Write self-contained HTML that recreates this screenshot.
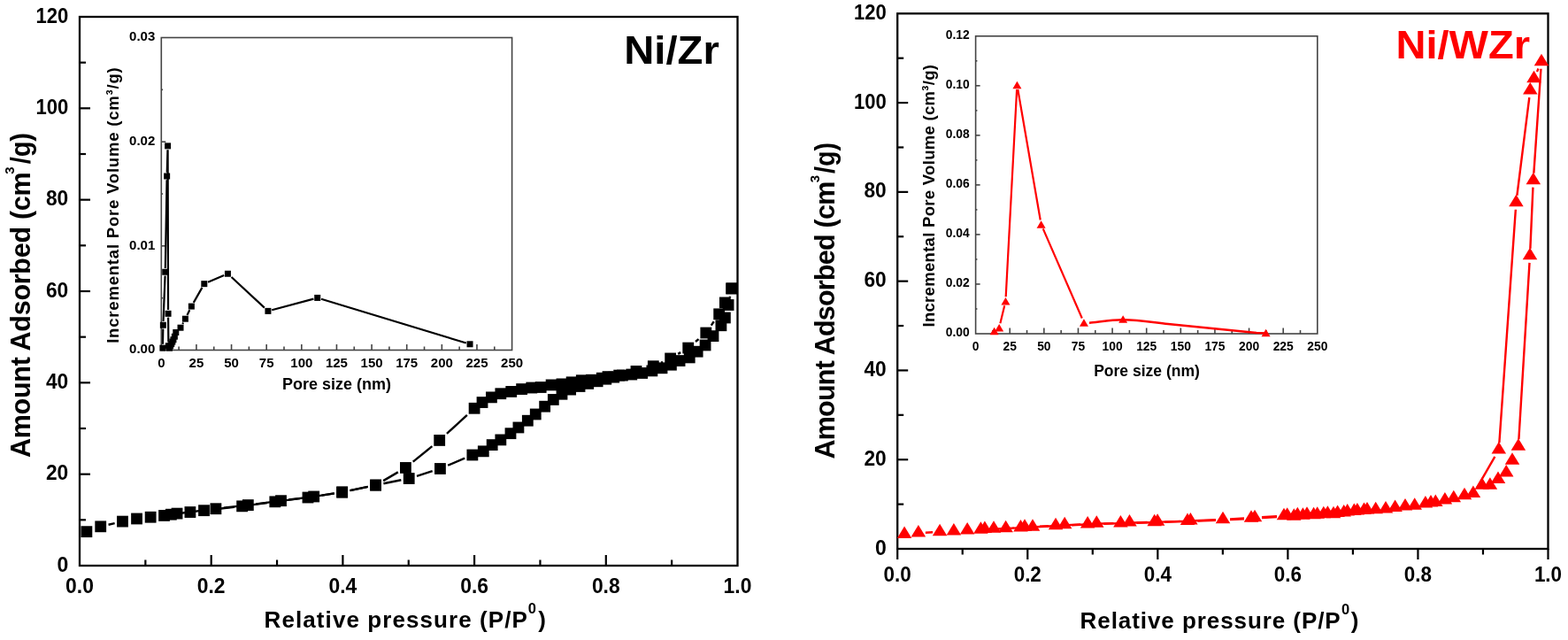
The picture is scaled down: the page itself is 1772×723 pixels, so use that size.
<!DOCTYPE html><html><head><meta charset="utf-8"><title>Isotherms</title><style>html,body{margin:0;padding:0;background:#fff;}svg{display:block;}text{font-family:"Liberation Sans", Arial, sans-serif;}</style></head><body>
<svg width="1772" height="723" viewBox="0 0 1772 723">
<rect width="1772" height="723" fill="#fff"/>
<rect x="90" y="19" width="743.5" height="620" fill="none" stroke="#000" stroke-width="2.3"/>
<text x="77.2" y="645.5" font-size="24.5" font-weight="bold" text-anchor="end" fill="#000" textLength="12.8" lengthAdjust="spacingAndGlyphs">0</text>
<line x1="90" y1="587.33" x2="97" y2="587.33" stroke="#000" stroke-width="2.2"/>
<line x1="90" y1="535.67" x2="102" y2="535.67" stroke="#000" stroke-width="2.2"/>
<text x="77.2" y="542.17" font-size="24.5" font-weight="bold" text-anchor="end" fill="#000" textLength="25.3" lengthAdjust="spacingAndGlyphs">20</text>
<line x1="90" y1="484" x2="97" y2="484" stroke="#000" stroke-width="2.2"/>
<line x1="90" y1="432.33" x2="102" y2="432.33" stroke="#000" stroke-width="2.2"/>
<text x="77.2" y="438.83" font-size="24.5" font-weight="bold" text-anchor="end" fill="#000" textLength="25.3" lengthAdjust="spacingAndGlyphs">40</text>
<line x1="90" y1="380.67" x2="97" y2="380.67" stroke="#000" stroke-width="2.2"/>
<line x1="90" y1="329" x2="102" y2="329" stroke="#000" stroke-width="2.2"/>
<text x="77.2" y="335.5" font-size="24.5" font-weight="bold" text-anchor="end" fill="#000" textLength="25.3" lengthAdjust="spacingAndGlyphs">60</text>
<line x1="90" y1="277.33" x2="97" y2="277.33" stroke="#000" stroke-width="2.2"/>
<line x1="90" y1="225.67" x2="102" y2="225.67" stroke="#000" stroke-width="2.2"/>
<text x="77.2" y="232.17" font-size="24.5" font-weight="bold" text-anchor="end" fill="#000" textLength="25.3" lengthAdjust="spacingAndGlyphs">80</text>
<line x1="90" y1="174" x2="97" y2="174" stroke="#000" stroke-width="2.2"/>
<line x1="90" y1="122.33" x2="102" y2="122.33" stroke="#000" stroke-width="2.2"/>
<text x="77.2" y="128.83" font-size="24.5" font-weight="bold" text-anchor="end" fill="#000" textLength="36.8" lengthAdjust="spacingAndGlyphs">100</text>
<line x1="90" y1="70.67" x2="97" y2="70.67" stroke="#000" stroke-width="2.2"/>
<text x="77.2" y="25.5" font-size="24.5" font-weight="bold" text-anchor="end" fill="#000" textLength="36.8" lengthAdjust="spacingAndGlyphs">120</text>
<text x="90" y="670" font-size="24" font-weight="bold" text-anchor="middle" fill="#000" textLength="31.8" lengthAdjust="spacingAndGlyphs">0.0</text>
<line x1="164.35" y1="639" x2="164.35" y2="632.5" stroke="#000" stroke-width="2.2"/>
<line x1="238.7" y1="639" x2="238.7" y2="627" stroke="#000" stroke-width="2.2"/>
<text x="238.7" y="670" font-size="24" font-weight="bold" text-anchor="middle" fill="#000" textLength="31.8" lengthAdjust="spacingAndGlyphs">0.2</text>
<line x1="313.05" y1="639" x2="313.05" y2="632.5" stroke="#000" stroke-width="2.2"/>
<line x1="387.4" y1="639" x2="387.4" y2="627" stroke="#000" stroke-width="2.2"/>
<text x="387.4" y="670" font-size="24" font-weight="bold" text-anchor="middle" fill="#000" textLength="31.8" lengthAdjust="spacingAndGlyphs">0.4</text>
<line x1="461.75" y1="639" x2="461.75" y2="632.5" stroke="#000" stroke-width="2.2"/>
<line x1="536.1" y1="639" x2="536.1" y2="627" stroke="#000" stroke-width="2.2"/>
<text x="536.1" y="670" font-size="24" font-weight="bold" text-anchor="middle" fill="#000" textLength="31.8" lengthAdjust="spacingAndGlyphs">0.6</text>
<line x1="610.45" y1="639" x2="610.45" y2="632.5" stroke="#000" stroke-width="2.2"/>
<line x1="684.8" y1="639" x2="684.8" y2="627" stroke="#000" stroke-width="2.2"/>
<text x="684.8" y="670" font-size="24" font-weight="bold" text-anchor="middle" fill="#000" textLength="31.8" lengthAdjust="spacingAndGlyphs">0.8</text>
<line x1="759.15" y1="639" x2="759.15" y2="632.5" stroke="#000" stroke-width="2.2"/>
<text x="833.5" y="670" font-size="24" font-weight="bold" text-anchor="middle" fill="#000" textLength="31.8" lengthAdjust="spacingAndGlyphs">1.0</text>
<rect x="1014.2" y="15.3" width="735.3" height="604.7" fill="none" stroke="#000" stroke-width="2.3"/>
<text x="1001.7" y="626.6" font-size="24.5" font-weight="bold" text-anchor="end" fill="#000" textLength="12.8" lengthAdjust="spacingAndGlyphs">0</text>
<line x1="1014.2" y1="569.61" x2="1021.2" y2="569.61" stroke="#000" stroke-width="2.2"/>
<line x1="1014.2" y1="519.22" x2="1026.2" y2="519.22" stroke="#000" stroke-width="2.2"/>
<text x="1001.7" y="525.82" font-size="24.5" font-weight="bold" text-anchor="end" fill="#000" textLength="25.3" lengthAdjust="spacingAndGlyphs">20</text>
<line x1="1014.2" y1="468.82" x2="1021.2" y2="468.82" stroke="#000" stroke-width="2.2"/>
<line x1="1014.2" y1="418.43" x2="1026.2" y2="418.43" stroke="#000" stroke-width="2.2"/>
<text x="1001.7" y="425.03" font-size="24.5" font-weight="bold" text-anchor="end" fill="#000" textLength="25.3" lengthAdjust="spacingAndGlyphs">40</text>
<line x1="1014.2" y1="368.04" x2="1021.2" y2="368.04" stroke="#000" stroke-width="2.2"/>
<line x1="1014.2" y1="317.65" x2="1026.2" y2="317.65" stroke="#000" stroke-width="2.2"/>
<text x="1001.7" y="324.25" font-size="24.5" font-weight="bold" text-anchor="end" fill="#000" textLength="25.3" lengthAdjust="spacingAndGlyphs">60</text>
<line x1="1014.2" y1="267.26" x2="1021.2" y2="267.26" stroke="#000" stroke-width="2.2"/>
<line x1="1014.2" y1="216.87" x2="1026.2" y2="216.87" stroke="#000" stroke-width="2.2"/>
<text x="1001.7" y="223.47" font-size="24.5" font-weight="bold" text-anchor="end" fill="#000" textLength="25.3" lengthAdjust="spacingAndGlyphs">80</text>
<line x1="1014.2" y1="166.47" x2="1021.2" y2="166.47" stroke="#000" stroke-width="2.2"/>
<line x1="1014.2" y1="116.08" x2="1026.2" y2="116.08" stroke="#000" stroke-width="2.2"/>
<text x="1001.7" y="122.68" font-size="24.5" font-weight="bold" text-anchor="end" fill="#000" textLength="36.8" lengthAdjust="spacingAndGlyphs">100</text>
<line x1="1014.2" y1="65.69" x2="1021.2" y2="65.69" stroke="#000" stroke-width="2.2"/>
<text x="1001.7" y="21.9" font-size="24.5" font-weight="bold" text-anchor="end" fill="#000" textLength="36.8" lengthAdjust="spacingAndGlyphs">120</text>
<line x1="1014.2" y1="620" x2="1014.2" y2="632" stroke="#000" stroke-width="2.2"/>
<text x="1014.2" y="657.3" font-size="23" font-weight="bold" text-anchor="middle" fill="#000" textLength="31.2" lengthAdjust="spacingAndGlyphs">0.0</text>
<line x1="1087.73" y1="620" x2="1087.73" y2="626.5" stroke="#000" stroke-width="2.2"/>
<line x1="1161.26" y1="620" x2="1161.26" y2="632" stroke="#000" stroke-width="2.2"/>
<text x="1161.26" y="657.3" font-size="23" font-weight="bold" text-anchor="middle" fill="#000" textLength="31.2" lengthAdjust="spacingAndGlyphs">0.2</text>
<line x1="1234.79" y1="620" x2="1234.79" y2="626.5" stroke="#000" stroke-width="2.2"/>
<line x1="1308.32" y1="620" x2="1308.32" y2="632" stroke="#000" stroke-width="2.2"/>
<text x="1308.32" y="657.3" font-size="23" font-weight="bold" text-anchor="middle" fill="#000" textLength="31.2" lengthAdjust="spacingAndGlyphs">0.4</text>
<line x1="1381.85" y1="620" x2="1381.85" y2="626.5" stroke="#000" stroke-width="2.2"/>
<line x1="1455.38" y1="620" x2="1455.38" y2="632" stroke="#000" stroke-width="2.2"/>
<text x="1455.38" y="657.3" font-size="23" font-weight="bold" text-anchor="middle" fill="#000" textLength="31.2" lengthAdjust="spacingAndGlyphs">0.6</text>
<line x1="1528.91" y1="620" x2="1528.91" y2="626.5" stroke="#000" stroke-width="2.2"/>
<line x1="1602.44" y1="620" x2="1602.44" y2="632" stroke="#000" stroke-width="2.2"/>
<text x="1602.44" y="657.3" font-size="23" font-weight="bold" text-anchor="middle" fill="#000" textLength="31.2" lengthAdjust="spacingAndGlyphs">0.8</text>
<line x1="1675.97" y1="620" x2="1675.97" y2="626.5" stroke="#000" stroke-width="2.2"/>
<line x1="1749.5" y1="620" x2="1749.5" y2="632" stroke="#000" stroke-width="2.2"/>
<text x="1749.5" y="657.3" font-size="23" font-weight="bold" text-anchor="middle" fill="#000" textLength="31.2" lengthAdjust="spacingAndGlyphs">1.0</text>
<text x="298.6" y="709.1" font-size="26" font-weight="bold" textLength="297.3" lengthAdjust="spacing">Relative pressure (P/P</text>
<text x="596.7" y="693" font-size="16.5" font-weight="bold">0</text>
<text x="608.3" y="709.1" font-size="26" font-weight="bold">)</text>
<text x="1220.6" y="710.3" font-size="26" font-weight="bold" textLength="294.1" lengthAdjust="spacing">Relative pressure (P/P</text>
<text x="1515.9" y="694.3" font-size="16.5" font-weight="bold">0</text>
<text x="1526.7" y="710.3" font-size="26" font-weight="bold">)</text>
<g transform="translate(33.6,517) rotate(-90)">
<text x="0" y="0" font-size="30.5" font-weight="bold" textLength="322.7" lengthAdjust="spacing">Amount Adsorbed (cm</text>
<text x="320.25" y="-17.3" font-size="15" font-weight="bold">3</text>
<text x="331.7" y="0" font-size="30.5" font-weight="bold" textLength="35.3" lengthAdjust="spacingAndGlyphs">/g)</text>
</g>
<g transform="translate(942.6,518.5) rotate(-90)">
<text x="0" y="0" font-size="30.5" font-weight="bold" textLength="313.8" lengthAdjust="spacing">Amount Adsorbed (cm</text>
<text x="312.2" y="-17.1" font-size="15" font-weight="bold">3</text>
<text x="322.5" y="0" font-size="30.5" font-weight="bold" textLength="35" lengthAdjust="spacingAndGlyphs">/g)</text>
</g>
<text x="705.3" y="71.8" font-size="45" font-weight="bold" text-anchor="start" fill="#000" textLength="107.5" lengthAdjust="spacingAndGlyphs">Ni/Zr</text>
<text x="1577.5" y="66" font-size="45" font-weight="bold" text-anchor="start" fill="#f00" textLength="151.5" lengthAdjust="spacingAndGlyphs">Ni/WZr</text>
<rect x="182.3" y="42.5" width="396.3" height="353" fill="#fff" stroke="#444" stroke-width="1.6"/>
<text x="182.3" y="415.1" font-size="15" font-weight="bold" text-anchor="middle" fill="#000">0</text>
<line x1="202.12" y1="395.5" x2="202.12" y2="391.5" stroke="#444" stroke-width="1.6"/>
<line x1="221.93" y1="395.5" x2="221.93" y2="389" stroke="#444" stroke-width="1.6"/>
<text x="221.93" y="415.1" font-size="15" font-weight="bold" text-anchor="middle" fill="#000">25</text>
<line x1="241.75" y1="395.5" x2="241.75" y2="391.5" stroke="#444" stroke-width="1.6"/>
<line x1="261.56" y1="395.5" x2="261.56" y2="389" stroke="#444" stroke-width="1.6"/>
<text x="261.56" y="415.1" font-size="15" font-weight="bold" text-anchor="middle" fill="#000">50</text>
<line x1="281.38" y1="395.5" x2="281.38" y2="391.5" stroke="#444" stroke-width="1.6"/>
<line x1="301.19" y1="395.5" x2="301.19" y2="389" stroke="#444" stroke-width="1.6"/>
<text x="301.19" y="415.1" font-size="15" font-weight="bold" text-anchor="middle" fill="#000">75</text>
<line x1="321" y1="395.5" x2="321" y2="391.5" stroke="#444" stroke-width="1.6"/>
<line x1="340.82" y1="395.5" x2="340.82" y2="389" stroke="#444" stroke-width="1.6"/>
<text x="340.82" y="415.1" font-size="15" font-weight="bold" text-anchor="middle" fill="#000">100</text>
<line x1="360.63" y1="395.5" x2="360.63" y2="391.5" stroke="#444" stroke-width="1.6"/>
<line x1="380.45" y1="395.5" x2="380.45" y2="389" stroke="#444" stroke-width="1.6"/>
<text x="380.45" y="415.1" font-size="15" font-weight="bold" text-anchor="middle" fill="#000">125</text>
<line x1="400.26" y1="395.5" x2="400.26" y2="391.5" stroke="#444" stroke-width="1.6"/>
<line x1="420.08" y1="395.5" x2="420.08" y2="389" stroke="#444" stroke-width="1.6"/>
<text x="420.08" y="415.1" font-size="15" font-weight="bold" text-anchor="middle" fill="#000">150</text>
<line x1="439.9" y1="395.5" x2="439.9" y2="391.5" stroke="#444" stroke-width="1.6"/>
<line x1="459.71" y1="395.5" x2="459.71" y2="389" stroke="#444" stroke-width="1.6"/>
<text x="459.71" y="415.1" font-size="15" font-weight="bold" text-anchor="middle" fill="#000">175</text>
<line x1="479.53" y1="395.5" x2="479.53" y2="391.5" stroke="#444" stroke-width="1.6"/>
<line x1="499.34" y1="395.5" x2="499.34" y2="389" stroke="#444" stroke-width="1.6"/>
<text x="499.34" y="415.1" font-size="15" font-weight="bold" text-anchor="middle" fill="#000">200</text>
<line x1="519.15" y1="395.5" x2="519.15" y2="391.5" stroke="#444" stroke-width="1.6"/>
<line x1="538.97" y1="395.5" x2="538.97" y2="389" stroke="#444" stroke-width="1.6"/>
<text x="538.97" y="415.1" font-size="15" font-weight="bold" text-anchor="middle" fill="#000">225</text>
<line x1="558.79" y1="395.5" x2="558.79" y2="391.5" stroke="#444" stroke-width="1.6"/>
<text x="578.6" y="415.1" font-size="15" font-weight="bold" text-anchor="middle" fill="#000">250</text>
<text x="175.3" y="399.4" font-size="15" font-weight="bold" text-anchor="end" fill="#000">0.00</text>
<line x1="182.3" y1="336.67" x2="184.1" y2="336.67" stroke="#444" stroke-width="1.6"/>
<line x1="182.3" y1="277.83" x2="187.3" y2="277.83" stroke="#444" stroke-width="1.6"/>
<text x="175.3" y="281.73" font-size="15" font-weight="bold" text-anchor="end" fill="#000">0.01</text>
<line x1="182.3" y1="219" x2="184.1" y2="219" stroke="#444" stroke-width="1.6"/>
<line x1="182.3" y1="160.17" x2="187.3" y2="160.17" stroke="#444" stroke-width="1.6"/>
<text x="175.3" y="164.07" font-size="15" font-weight="bold" text-anchor="end" fill="#000">0.02</text>
<line x1="182.3" y1="101.33" x2="184.1" y2="101.33" stroke="#444" stroke-width="1.6"/>
<text x="175.3" y="46.4" font-size="15" font-weight="bold" text-anchor="end" fill="#000">0.03</text>
<text x="380.5" y="440" font-size="18" font-weight="bold" text-anchor="middle">Pore size (nm)</text>
<text transform="translate(134,387.8) rotate(-90)" font-size="18.5" font-weight="bold" textLength="311.5" lengthAdjust="spacing">Incremental Pore Volume (cm&#179;/g)</text>
<rect x="1102.6" y="40.8" width="386.2" height="336.2" fill="#fff" stroke="#444" stroke-width="1.6"/>
<text x="1102.6" y="396.2" font-size="13.8" font-weight="bold" text-anchor="middle" fill="#000">0</text>
<line x1="1121.91" y1="377" x2="1121.91" y2="373" stroke="#444" stroke-width="1.6"/>
<line x1="1141.22" y1="377" x2="1141.22" y2="370.5" stroke="#444" stroke-width="1.6"/>
<text x="1141.22" y="396.2" font-size="13.8" font-weight="bold" text-anchor="middle" fill="#000">25</text>
<line x1="1160.53" y1="377" x2="1160.53" y2="373" stroke="#444" stroke-width="1.6"/>
<line x1="1179.84" y1="377" x2="1179.84" y2="370.5" stroke="#444" stroke-width="1.6"/>
<text x="1179.84" y="396.2" font-size="13.8" font-weight="bold" text-anchor="middle" fill="#000">50</text>
<line x1="1199.15" y1="377" x2="1199.15" y2="373" stroke="#444" stroke-width="1.6"/>
<line x1="1218.46" y1="377" x2="1218.46" y2="370.5" stroke="#444" stroke-width="1.6"/>
<text x="1218.46" y="396.2" font-size="13.8" font-weight="bold" text-anchor="middle" fill="#000">75</text>
<line x1="1237.77" y1="377" x2="1237.77" y2="373" stroke="#444" stroke-width="1.6"/>
<line x1="1257.08" y1="377" x2="1257.08" y2="370.5" stroke="#444" stroke-width="1.6"/>
<text x="1257.08" y="396.2" font-size="13.8" font-weight="bold" text-anchor="middle" fill="#000">100</text>
<line x1="1276.39" y1="377" x2="1276.39" y2="373" stroke="#444" stroke-width="1.6"/>
<line x1="1295.7" y1="377" x2="1295.7" y2="370.5" stroke="#444" stroke-width="1.6"/>
<text x="1295.7" y="396.2" font-size="13.8" font-weight="bold" text-anchor="middle" fill="#000">125</text>
<line x1="1315.01" y1="377" x2="1315.01" y2="373" stroke="#444" stroke-width="1.6"/>
<line x1="1334.32" y1="377" x2="1334.32" y2="370.5" stroke="#444" stroke-width="1.6"/>
<text x="1334.32" y="396.2" font-size="13.8" font-weight="bold" text-anchor="middle" fill="#000">150</text>
<line x1="1353.63" y1="377" x2="1353.63" y2="373" stroke="#444" stroke-width="1.6"/>
<line x1="1372.94" y1="377" x2="1372.94" y2="370.5" stroke="#444" stroke-width="1.6"/>
<text x="1372.94" y="396.2" font-size="13.8" font-weight="bold" text-anchor="middle" fill="#000">175</text>
<line x1="1392.25" y1="377" x2="1392.25" y2="373" stroke="#444" stroke-width="1.6"/>
<line x1="1411.56" y1="377" x2="1411.56" y2="370.5" stroke="#444" stroke-width="1.6"/>
<text x="1411.56" y="396.2" font-size="13.8" font-weight="bold" text-anchor="middle" fill="#000">200</text>
<line x1="1430.87" y1="377" x2="1430.87" y2="373" stroke="#444" stroke-width="1.6"/>
<line x1="1450.18" y1="377" x2="1450.18" y2="370.5" stroke="#444" stroke-width="1.6"/>
<text x="1450.18" y="396.2" font-size="13.8" font-weight="bold" text-anchor="middle" fill="#000">225</text>
<line x1="1469.49" y1="377" x2="1469.49" y2="373" stroke="#444" stroke-width="1.6"/>
<text x="1488.8" y="396.2" font-size="13.8" font-weight="bold" text-anchor="middle" fill="#000">250</text>
<text x="1095.6" y="380.2" font-size="13.8" font-weight="bold" text-anchor="end" fill="#000">0.00</text>
<line x1="1102.6" y1="348.98" x2="1104.4" y2="348.98" stroke="#444" stroke-width="1.6"/>
<line x1="1102.6" y1="320.97" x2="1107.6" y2="320.97" stroke="#444" stroke-width="1.6"/>
<text x="1095.6" y="324.17" font-size="13.8" font-weight="bold" text-anchor="end" fill="#000">0.02</text>
<line x1="1102.6" y1="292.95" x2="1104.4" y2="292.95" stroke="#444" stroke-width="1.6"/>
<line x1="1102.6" y1="264.93" x2="1107.6" y2="264.93" stroke="#444" stroke-width="1.6"/>
<text x="1095.6" y="268.13" font-size="13.8" font-weight="bold" text-anchor="end" fill="#000">0.04</text>
<line x1="1102.6" y1="236.92" x2="1104.4" y2="236.92" stroke="#444" stroke-width="1.6"/>
<line x1="1102.6" y1="208.9" x2="1107.6" y2="208.9" stroke="#444" stroke-width="1.6"/>
<text x="1095.6" y="212.1" font-size="13.8" font-weight="bold" text-anchor="end" fill="#000">0.06</text>
<line x1="1102.6" y1="180.88" x2="1104.4" y2="180.88" stroke="#444" stroke-width="1.6"/>
<line x1="1102.6" y1="152.87" x2="1107.6" y2="152.87" stroke="#444" stroke-width="1.6"/>
<text x="1095.6" y="156.07" font-size="13.8" font-weight="bold" text-anchor="end" fill="#000">0.08</text>
<line x1="1102.6" y1="124.85" x2="1104.4" y2="124.85" stroke="#444" stroke-width="1.6"/>
<line x1="1102.6" y1="96.83" x2="1107.6" y2="96.83" stroke="#444" stroke-width="1.6"/>
<text x="1095.6" y="100.03" font-size="13.8" font-weight="bold" text-anchor="end" fill="#000">0.10</text>
<line x1="1102.6" y1="68.82" x2="1104.4" y2="68.82" stroke="#444" stroke-width="1.6"/>
<text x="1095.6" y="44" font-size="13.8" font-weight="bold" text-anchor="end" fill="#000">0.12</text>
<text x="1296" y="425" font-size="17.5" font-weight="bold" text-anchor="middle">Pore size (nm)</text>
<text transform="translate(1055.5,369.5) rotate(-90)" font-size="18.5" font-weight="bold" textLength="296.5" lengthAdjust="spacing">Incremental Pore Volume (cm&#179;/g)</text>
<path d="M183.96 388.85L184.28 371.56M184.53 362.96L186.57 311.55M186.81 302.95L188.57 203.3M188.76 194.7L189.47 169.17M189.6 169.17L190.06 350.02M190.1 358.62L190.35 386.49M206.28 366L207.14 364.4M211.49 355.98L214.3 350.3M218.76 341.88L228.43 324.86M235.04 318.85L253.2 311.07M261.53 313.03L298.85 347.59M307.21 350.23L354.46 337.58M363 337.73L526.78 387.5" fill="none" stroke="#000" stroke-width="2.2" stroke-linecap="butt"/>
<rect x="180.39" y="389.65" width="7" height="7" fill="#000"/>
<rect x="180.86" y="363.76" width="7" height="7" fill="#000"/>
<rect x="183.24" y="303.75" width="7" height="7" fill="#000"/>
<rect x="185.14" y="195.5" width="7" height="7" fill="#000"/>
<rect x="186.09" y="161.37" width="7" height="7" fill="#000"/>
<rect x="186.57" y="350.82" width="7" height="7" fill="#000"/>
<rect x="186.88" y="387.29" width="7" height="7" fill="#000"/>
<rect x="187.99" y="389.65" width="7" height="7" fill="#000"/>
<rect x="189.1" y="387.29" width="7" height="7" fill="#000"/>
<rect x="190.21" y="384.94" width="7" height="7" fill="#000"/>
<rect x="191.32" y="382.59" width="7" height="7" fill="#000"/>
<rect x="192.43" y="380.23" width="7" height="7" fill="#000"/>
<rect x="193.86" y="376.7" width="7" height="7" fill="#000"/>
<rect x="195.29" y="372" width="7" height="7" fill="#000"/>
<rect x="200.52" y="366.7" width="7" height="7" fill="#000"/>
<rect x="205.91" y="356.7" width="7" height="7" fill="#000"/>
<rect x="212.88" y="342.58" width="7" height="7" fill="#000"/>
<rect x="227.31" y="317.16" width="7" height="7" fill="#000"/>
<rect x="253.94" y="305.75" width="7" height="7" fill="#000"/>
<rect x="299.43" y="347.88" width="7" height="7" fill="#000"/>
<rect x="355.23" y="332.93" width="7" height="7" fill="#000"/>
<rect x="527.54" y="385.29" width="7" height="7" fill="#000"/>
<path d="M1130.38 365.3L1135.23 345.28M1136.7 335.3L1149.14 100.99M1150.27 100.98L1175.73 248.46M1178.75 258.38L1222.8 359.46" fill="none" stroke="#f00" stroke-width="2.2" stroke-linecap="butt"/>
<path d="M1230.95 364.69 C1240 364 1255 361.4 1268.6 361.3 C1285 361.2 1300 363.8 1320 366 L1420 376 L1431 376.4" fill="none" stroke="#f00" stroke-width="2.4" stroke-linejoin="round"/>
<polygon points="1123.61,369.67 1118.61,378.17 1128.61,378.17" fill="#f00"/>
<polygon points="1129.17,366.03 1124.17,374.53 1134.17,374.53" fill="#f00"/>
<polygon points="1136.43,336.05 1131.43,344.55 1141.43,344.55" fill="#f00"/>
<polygon points="1149.41,91.74 1144.41,100.24 1154.41,100.24" fill="#f00"/>
<polygon points="1176.6,249.2 1171.6,257.7 1181.6,257.7" fill="#f00"/>
<polygon points="1224.95,360.14 1219.95,368.64 1229.95,368.64" fill="#f00"/>
<polygon points="1269.13,356.22 1264.13,364.72 1274.13,364.72" fill="#f00"/>
<polygon points="1430.56,371.63 1425.56,380.13 1435.56,380.13" fill="#f00"/>
<path d="M122.55 592.78L129.64 591.14M239.41 575.69L264.76 572.83M282.52 570.64L301.94 568.02M319.7 565.67L339.12 563.16M356.86 560.64L377.79 557.4M395.5 554.17L415.73 549.92M433.43 546.29L453.34 542.3M470.98 537.77L488.65 532.22M506.14 525.77L525.17 517.67M824.86 335.65L825.04 334.75" fill="none" stroke="#000" stroke-width="2.4" stroke-linecap="butt"/>
<path d="M806.75 363.28L803.74 367.57M789.51 383.07L786.04 386.01M769.19 398.13L766.21 399.89M748.99 408.89L747.01 409.79M729.53 416.32L727.8 416.83M710.17 421.54L708.5 421.94M527.86 468.83L504.94 489.87M488.35 504.19L466.75 521.68M449.84 533.4L433.14 543.1M415.73 549.92L395.5 554.17M377.79 557.4L363.56 559.61M345.81 562.11L326.39 564.56M308.63 566.86L289.21 569.42M271.45 571.6L252.79 573.72M235.02 575.86L202.23 580.05" fill="none" stroke="#000" stroke-width="2.4" stroke-linecap="butt"/>
<rect x="91.48" y="594.26" width="12.8" height="12.8" fill="#000"/>
<rect x="107.32" y="588.43" width="12.8" height="12.8" fill="#000"/>
<rect x="132.08" y="582.69" width="12.8" height="12.8" fill="#000"/>
<rect x="148.14" y="579.59" width="12.8" height="12.8" fill="#000"/>
<rect x="163.75" y="577.83" width="12.8" height="12.8" fill="#000"/>
<rect x="179.14" y="576.02" width="12.8" height="12.8" fill="#000"/>
<rect x="193.64" y="573.7" width="12.8" height="12.8" fill="#000"/>
<rect x="208.51" y="572.15" width="12.8" height="12.8" fill="#000"/>
<rect x="224.12" y="570.29" width="12.8" height="12.8" fill="#000"/>
<rect x="267.24" y="565.43" width="12.8" height="12.8" fill="#000"/>
<rect x="304.42" y="560.42" width="12.8" height="12.8" fill="#000"/>
<rect x="341.59" y="555.62" width="12.8" height="12.8" fill="#000"/>
<rect x="380.26" y="549.62" width="12.8" height="12.8" fill="#000"/>
<rect x="418.18" y="541.67" width="12.8" height="12.8" fill="#000"/>
<rect x="455.8" y="534.12" width="12.8" height="12.8" fill="#000"/>
<rect x="491.04" y="523.07" width="12.8" height="12.8" fill="#000"/>
<rect x="527.47" y="507.57" width="12.8" height="12.8" fill="#000"/>
<rect x="539.89" y="503.43" width="12.8" height="12.8" fill="#000"/>
<rect x="549.77" y="496.2" width="12.8" height="12.8" fill="#000"/>
<rect x="559.44" y="490.52" width="12.8" height="12.8" fill="#000"/>
<rect x="570.59" y="483.28" width="12.8" height="12.8" fill="#000"/>
<rect x="579.51" y="476.57" width="12.8" height="12.8" fill="#000"/>
<rect x="589.92" y="468.82" width="12.8" height="12.8" fill="#000"/>
<rect x="598.85" y="461.58" width="12.8" height="12.8" fill="#000"/>
<rect x="609.25" y="452.8" width="12.8" height="12.8" fill="#000"/>
<rect x="618.92" y="445.05" width="12.8" height="12.8" fill="#000"/>
<rect x="628.59" y="438.85" width="12.8" height="12.8" fill="#000"/>
<rect x="638.25" y="433.68" width="12.8" height="12.8" fill="#000"/>
<rect x="648.66" y="430.07" width="12.8" height="12.8" fill="#000"/>
<rect x="658.33" y="426.97" width="12.8" height="12.8" fill="#000"/>
<rect x="668.73" y="424.38" width="12.8" height="12.8" fill="#000"/>
<rect x="678.4" y="421.8" width="12.8" height="12.8" fill="#000"/>
<rect x="687.32" y="419.73" width="12.8" height="12.8" fill="#000"/>
<rect x="696.99" y="417.67" width="12.8" height="12.8" fill="#000"/>
<rect x="707.4" y="416.63" width="12.8" height="12.8" fill="#000"/>
<rect x="719.29" y="415.08" width="12.8" height="12.8" fill="#000"/>
<rect x="730.45" y="412.5" width="12.8" height="12.8" fill="#000"/>
<rect x="741.6" y="409.4" width="12.8" height="12.8" fill="#000"/>
<rect x="752.01" y="405.78" width="12.8" height="12.8" fill="#000"/>
<rect x="761.67" y="401.13" width="12.8" height="12.8" fill="#000"/>
<rect x="772.82" y="397.52" width="12.8" height="12.8" fill="#000"/>
<rect x="781.75" y="390.8" width="12.8" height="12.8" fill="#000"/>
<rect x="790.67" y="383.57" width="12.8" height="12.8" fill="#000"/>
<rect x="799.59" y="373.23" width="12.8" height="12.8" fill="#000"/>
<rect x="808.51" y="361.35" width="12.8" height="12.8" fill="#000"/>
<rect x="812.97" y="352.57" width="12.8" height="12.8" fill="#000"/>
<rect x="816.69" y="338.1" width="12.8" height="12.8" fill="#000"/>
<rect x="820.41" y="319.5" width="12.8" height="12.8" fill="#000"/>
<rect x="820.41" y="319.5" width="12.8" height="12.8" fill="#000"/>
<rect x="812.97" y="335.52" width="12.8" height="12.8" fill="#000"/>
<rect x="806.28" y="348.43" width="12.8" height="12.8" fill="#000"/>
<rect x="791.41" y="369.62" width="12.8" height="12.8" fill="#000"/>
<rect x="771.34" y="386.67" width="12.8" height="12.8" fill="#000"/>
<rect x="751.26" y="398.55" width="12.8" height="12.8" fill="#000"/>
<rect x="731.93" y="407.33" width="12.8" height="12.8" fill="#000"/>
<rect x="712.6" y="413.02" width="12.8" height="12.8" fill="#000"/>
<rect x="693.27" y="417.67" width="12.8" height="12.8" fill="#000"/>
<rect x="680.63" y="419.22" width="12.8" height="12.8" fill="#000"/>
<rect x="673.94" y="420.77" width="12.8" height="12.8" fill="#000"/>
<rect x="662.04" y="422.83" width="12.8" height="12.8" fill="#000"/>
<rect x="650.89" y="423.35" width="12.8" height="12.8" fill="#000"/>
<rect x="639.74" y="425.42" width="12.8" height="12.8" fill="#000"/>
<rect x="628.59" y="427.48" width="12.8" height="12.8" fill="#000"/>
<rect x="616.69" y="428.52" width="12.8" height="12.8" fill="#000"/>
<rect x="604.79" y="431.1" width="12.8" height="12.8" fill="#000"/>
<rect x="594.38" y="431.62" width="12.8" height="12.8" fill="#000"/>
<rect x="583.23" y="433.17" width="12.8" height="12.8" fill="#000"/>
<rect x="571.34" y="436.01" width="12.8" height="12.8" fill="#000"/>
<rect x="559.44" y="438.33" width="12.8" height="12.8" fill="#000"/>
<rect x="549.03" y="442.47" width="12.8" height="12.8" fill="#000"/>
<rect x="538.62" y="448.15" width="12.8" height="12.8" fill="#000"/>
<rect x="529.7" y="454.87" width="12.8" height="12.8" fill="#000"/>
<rect x="490.29" y="491.03" width="12.8" height="12.8" fill="#000"/>
<rect x="452" y="522.03" width="12.8" height="12.8" fill="#000"/>
<rect x="418.18" y="541.67" width="12.8" height="12.8" fill="#000"/>
<rect x="380.26" y="549.62" width="12.8" height="12.8" fill="#000"/>
<rect x="348.29" y="554.58" width="12.8" height="12.8" fill="#000"/>
<rect x="311.11" y="559.28" width="12.8" height="12.8" fill="#000"/>
<rect x="273.94" y="564.19" width="12.8" height="12.8" fill="#000"/>
<rect x="237.5" y="568.33" width="12.8" height="12.8" fill="#000"/>
<rect x="186.95" y="574.79" width="12.8" height="12.8" fill="#000"/>
<path d="M1045.87 601.68L1054.07 601.25M1144.63 596.31L1145.47 596.27M1174.99 594.79L1185.03 594.24M1201.02 593.41L1221.13 592.43M1237.13 591.79L1258.41 591.14M1274.41 590.68L1296.64 590.07M1312.64 589.58L1334 588.86M1349.99 588.21L1374 587.08M1390 586.33L1406 585.57M1426 584.22L1443 583.18M1716.39 496.2L1728.51 296.85M1729.36 280.85L1732.44 211.65M1733.35 195.65L1741.45 77.75" fill="none" stroke="#f00" stroke-width="2.4" stroke-linecap="butt"/>
<path d="M1738.5 77.58L1737 80.92M1728.3 110.03L1714.4 220.77M1712.84 236.75L1694.36 500.05M1689.35 515.78L1669.35 550.57M1443 583.98L1426 585.02M1406 586.37L1390 587.13M1374 587.78L1353.38 588.49M1337.38 589.05L1316.1 589.78M1300.1 590.27L1284.48 590.7M1268.48 591.14L1247.27 591.72M1231.28 592.3L1211.17 593.21M1195.17 594L1166.02 595.56M1150.03 596.38L1120.87 597.81" fill="none" stroke="#f00" stroke-width="2.4" stroke-linecap="butt"/>
<polygon points="1022.07,594.61 1013.82,608.11 1030.32,608.11" fill="#f00"/>
<polygon points="1037.88,593.09 1029.63,606.59 1046.13,606.59" fill="#f00"/>
<polygon points="1062.07,591.83 1053.82,605.33 1070.32,605.33" fill="#f00"/>
<polygon points="1077.88,590.94 1069.63,604.44 1086.13,604.44" fill="#f00"/>
<polygon points="1093.17,590.07 1084.92,603.57 1101.42,603.57" fill="#f00"/>
<polygon points="1108.39,589.17 1100.14,602.67 1116.64,602.67" fill="#f00"/>
<polygon points="1123.02,588.31 1114.77,601.81 1131.27,601.81" fill="#f00"/>
<polygon points="1136.63,587.68 1128.38,601.18 1144.88,601.18" fill="#f00"/>
<polygon points="1153.47,586.9 1145.22,600.4 1161.72,600.4" fill="#f00"/>
<polygon points="1167,586.23 1158.75,599.73 1175.25,599.73" fill="#f00"/>
<polygon points="1193.02,584.8 1184.77,598.3 1201.27,598.3" fill="#f00"/>
<polygon points="1229.13,583.03 1220.88,596.53 1237.38,596.53" fill="#f00"/>
<polygon points="1266.41,581.9 1258.16,595.4 1274.66,595.4" fill="#f00"/>
<polygon points="1304.64,580.85 1296.39,594.35 1312.89,594.35" fill="#f00"/>
<polygon points="1342,579.59 1333.75,593.09 1350.25,593.09" fill="#f00"/>
<polygon points="1382,577.7 1373.75,591.2 1390.25,591.2" fill="#f00"/>
<polygon points="1414,576.2 1405.75,589.7 1422.25,589.7" fill="#f00"/>
<polygon points="1418,575.7 1409.75,589.2 1426.25,589.2" fill="#f00"/>
<polygon points="1451,573.7 1442.75,587.2 1459.25,587.2" fill="#f00"/>
<polygon points="1454.7,573.2 1446.45,586.7 1462.95,586.7" fill="#f00"/>
<polygon points="1462.3,574.2 1454.05,587.7 1470.55,587.7" fill="#f00"/>
<polygon points="1466.3,572.7 1458.05,586.2 1474.55,586.2" fill="#f00"/>
<polygon points="1472.4,573.2 1464.15,586.7 1480.65,586.7" fill="#f00"/>
<polygon points="1477,572.2 1468.75,585.7 1485.25,585.7" fill="#f00"/>
<polygon points="1484.6,572.7 1476.35,586.2 1492.85,586.2" fill="#f00"/>
<polygon points="1488.7,572.2 1480.45,585.7 1496.95,585.7" fill="#f00"/>
<polygon points="1495.8,571.7 1487.55,585.2 1504.05,585.2" fill="#f00"/>
<polygon points="1500.4,571.2 1492.15,584.7 1508.65,584.7" fill="#f00"/>
<polygon points="1507,571.7 1498.75,585.2 1515.25,585.2" fill="#f00"/>
<polygon points="1511.6,570.6 1503.35,584.1 1519.85,584.1" fill="#f00"/>
<polygon points="1518.7,570.1 1510.45,583.6 1526.95,583.6" fill="#f00"/>
<polygon points="1522.7,569.1 1514.45,582.6 1530.95,582.6" fill="#f00"/>
<polygon points="1530.3,568.6 1522.05,582.1 1538.55,582.1" fill="#f00"/>
<polygon points="1533.9,568.1 1525.65,581.6 1542.15,581.6" fill="#f00"/>
<polygon points="1541.5,567.6 1533.25,581.1 1549.75,581.1" fill="#f00"/>
<polygon points="1545,567.1 1536.75,580.6 1553.25,580.6" fill="#f00"/>
<polygon points="1554.7,566.8 1546.45,580.3 1562.95,580.3" fill="#f00"/>
<polygon points="1566,566 1557.75,579.5 1574.25,579.5" fill="#f00"/>
<polygon points="1576.6,564.4 1568.35,577.9 1584.85,577.9" fill="#f00"/>
<polygon points="1588,562.9 1579.75,576.4 1596.25,576.4" fill="#f00"/>
<polygon points="1598.7,562.2 1590.45,575.7 1606.95,575.7" fill="#f00"/>
<polygon points="1610.9,559.9 1602.65,573.4 1619.15,573.4" fill="#f00"/>
<polygon points="1617,559.1 1608.75,572.6 1625.25,572.6" fill="#f00"/>
<polygon points="1622.3,558.4 1614.05,571.9 1630.55,571.9" fill="#f00"/>
<polygon points="1632.9,556.1 1624.65,569.6 1641.15,569.6" fill="#f00"/>
<polygon points="1642.8,553.8 1634.55,567.3 1651.05,567.3" fill="#f00"/>
<polygon points="1655,550.8 1646.75,564.3 1663.25,564.3" fill="#f00"/>
<polygon points="1664.9,548.5 1656.65,562 1673.15,562" fill="#f00"/>
<polygon points="1674.8,539.3 1666.55,552.8 1683.05,552.8" fill="#f00"/>
<polygon points="1683.9,539.3 1675.65,552.8 1692.15,552.8" fill="#f00"/>
<polygon points="1693,532.5 1684.75,546 1701.25,546" fill="#f00"/>
<polygon points="1702.2,524.9 1693.95,538.4 1710.45,538.4" fill="#f00"/>
<polygon points="1709,511.2 1700.75,524.7 1717.25,524.7" fill="#f00"/>
<polygon points="1715.9,495.2 1707.65,508.7 1724.15,508.7" fill="#f00"/>
<polygon points="1729,279.85 1720.75,293.35 1737.25,293.35" fill="#f00"/>
<polygon points="1732.8,194.65 1724.55,208.15 1741.05,208.15" fill="#f00"/>
<polygon points="1742,60.75 1733.75,74.25 1750.25,74.25" fill="#f00"/>
<polygon points="1733.5,79.75 1725.25,93.25 1741.75,93.25" fill="#f00"/>
<polygon points="1729.3,93.05 1721.05,106.55 1737.55,106.55" fill="#f00"/>
<polygon points="1713.4,219.75 1705.15,233.25 1721.65,233.25" fill="#f00"/>
<polygon points="1693.8,499.05 1685.55,512.55 1702.05,512.55" fill="#f00"/>
<polygon points="1112.88,588.4 1104.63,601.9 1121.13,601.9" fill="#f00"/>
<polygon points="1158.02,586.19 1149.77,599.69 1166.27,599.69" fill="#f00"/>
<polygon points="1203.17,583.78 1194.92,597.28 1211.42,597.28" fill="#f00"/>
<polygon points="1239.28,582.14 1231.03,595.64 1247.53,595.64" fill="#f00"/>
<polygon points="1276.48,581.12 1268.23,594.62 1284.73,594.62" fill="#f00"/>
<polygon points="1308.1,580.25 1299.85,593.75 1316.35,593.75" fill="#f00"/>
<polygon points="1345.38,578.97 1337.13,592.47 1353.63,592.47" fill="#f00"/>
</svg></body></html>
